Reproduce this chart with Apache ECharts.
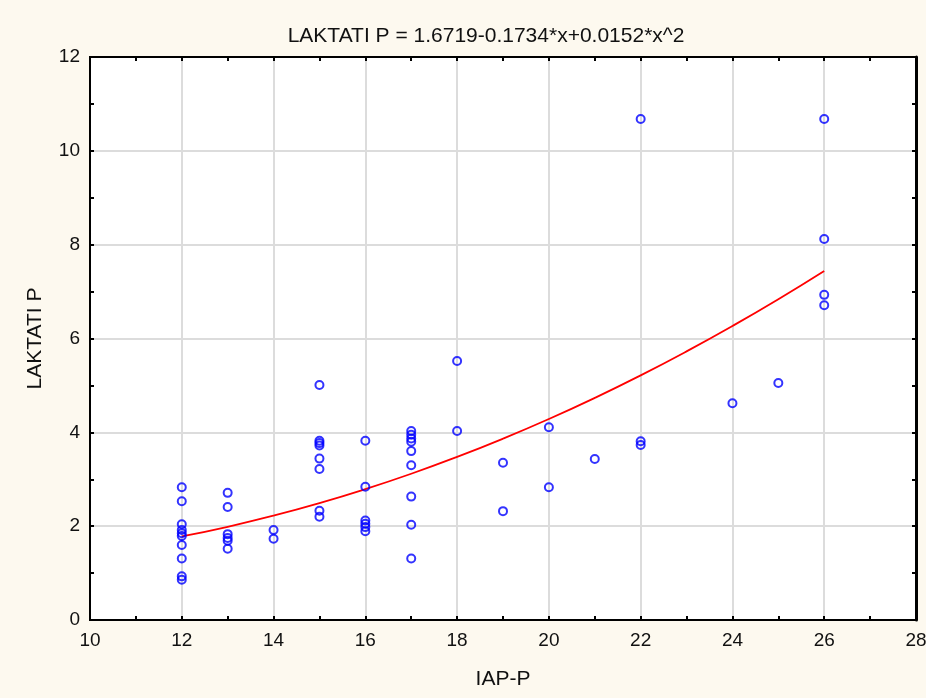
<!DOCTYPE html>
<html>
<head>
<meta charset="utf-8">
<script src="https://cdn.jsdelivr.net/npm/echarts@6/dist/echarts.min.js"></script>
<style>
html,body{margin:0;padding:0;background:#fdf9ef;}
#chart{width:926px;height:698px;}
</style>
</head>
<body>
<div id="chart"></div>
<script>
// Scatter data: IAP-P (x) vs LAKTATI P (y)
var xValues = [12,12,12,12,12,12,12,12,12,12,
  13,13,13,13,13,13,
  14,14,
  15,15,15,15,15,15,15,15,
  16,16,16,16,16,16,
  17,17,17,17,17,17,17,17,17,
  18,18,
  19,19,
  20,20,
  21,
  22,22,22,
  24,
  25,
  26,26,26,26];
var yValues = [2.83,2.53,2.04,1.92,1.85,1.79,1.60,1.31,0.93,0.86,
  2.71,2.41,1.83,1.75,1.69,1.52,
  1.92,1.73,
  5.01,3.82,3.77,3.72,3.44,3.22,2.33,2.20,
  3.82,2.84,2.12,2.05,1.98,1.89,
  4.03,3.95,3.87,3.80,3.60,3.30,2.63,2.03,1.31,
  5.52,4.03,
  3.35,2.32,
  4.11,2.83,
  3.43,
  10.68,3.81,3.73,
  4.62,
  5.05,
  10.68,8.12,6.93,6.71];
// Fitted curve samples (LAKTATI P = 1.6719-0.1734*x+0.0152*x^2)
var fitX = [12,13,14,15,16,17,18,19,20,21,22,23,24,25,26];
var fitY = [1.780,1.987,2.224,2.491,2.789,3.117,3.476,3.865,4.284,4.734,5.214,5.725,6.266,6.837,7.439];
var titleText = 'LAKTATI P = 1.6719-0.1734*x+0.0152*x^2';
var xName = 'IAP-P';
var yName = 'LAKTATI P';

var scatter = xValues.map(function(x,i){return [x,yValues[i]];});
var fit = fitX.map(function(x,i){return [x,fitY[i]];});

var font = 'Liberation Sans, Arial, sans-serif';
var chart = echarts.init(document.getElementById('chart'), null, {renderer:'canvas'});
chart.setOption({
  backgroundColor:'#fdf9ef',
  animation:false,
  title:{text:titleText,left:481,top:21,textAlign:'center',
    textStyle:{fontFamily:font,fontSize:21,fontWeight:'normal',color:'#111'}},
  grid:{left:90,right:10,top:57,bottom:78,outerBoundsMode:'none',containLabel:false,
    show:true,backgroundColor:'#ffffff',borderColor:'#000',borderWidth:2},
  xAxis:[{
    type:'value',min:10,max:28,interval:2,position:'bottom',
    name:xName,nameLocation:'middle',nameGap:49,
    nameTextStyle:{fontFamily:font,fontSize:21,color:'#111'},
    axisLine:{show:true,onZero:false,lineStyle:{color:'#000',width:2}},
    axisTick:{show:true,inside:true,length:4,lineStyle:{color:'#000',width:2}},
    minorTick:{show:true,splitNumber:2,length:4,lineStyle:{color:'#000',width:2}},
    axisLabel:{fontFamily:font,fontSize:19,color:'#111',margin:11},
    splitLine:{show:true,lineStyle:{color:'#dcdcdc',width:2}}
  },{
    type:'value',min:10,max:28,interval:2,position:'top',
    axisLine:{show:true,onZero:false,lineStyle:{color:'#000',width:2}},
    axisTick:{show:true,inside:true,length:4,lineStyle:{color:'#000',width:2}},
    minorTick:{show:true,splitNumber:2,length:4,lineStyle:{color:'#000',width:2}},
    axisLabel:{show:false},splitLine:{show:false}
  }],
  yAxis:[{
    type:'value',min:0,max:12,interval:2,position:'left',
    name:yName,nameLocation:'middle',nameGap:44,
    nameTextStyle:{fontFamily:font,fontSize:21,color:'#111'},
    axisLine:{show:true,onZero:false,lineStyle:{color:'#000',width:2}},
    axisTick:{show:true,inside:true,length:4,lineStyle:{color:'#000',width:2}},
    minorTick:{show:true,splitNumber:2,length:4,lineStyle:{color:'#000',width:2}},
    axisLabel:{fontFamily:font,fontSize:19,color:'#111',margin:10},
    splitLine:{show:true,lineStyle:{color:'#dcdcdc',width:2}}
  },{
    type:'value',min:0,max:12,interval:2,position:'right',
    axisLine:{show:true,onZero:false,lineStyle:{color:'#000',width:3}},
    axisTick:{show:true,inside:true,length:4,lineStyle:{color:'#000',width:2}},
    minorTick:{show:true,splitNumber:2,length:4,lineStyle:{color:'#000',width:2}},
    axisLabel:{show:false},splitLine:{show:false}
  }],
  series:[{
    type:'line',data:fit,smooth:true,showSymbol:false,symbol:'none',
    lineStyle:{color:'#ff0000',width:1.8},z:2,silent:true
  },{
    type:'scatter',data:scatter,symbol:'circle',symbolSize:8,
    itemStyle:{color:'rgba(0,0,0,0)',borderColor:'#0000ff',borderWidth:2},z:3
  }]
});
</script>
</body>
</html>
